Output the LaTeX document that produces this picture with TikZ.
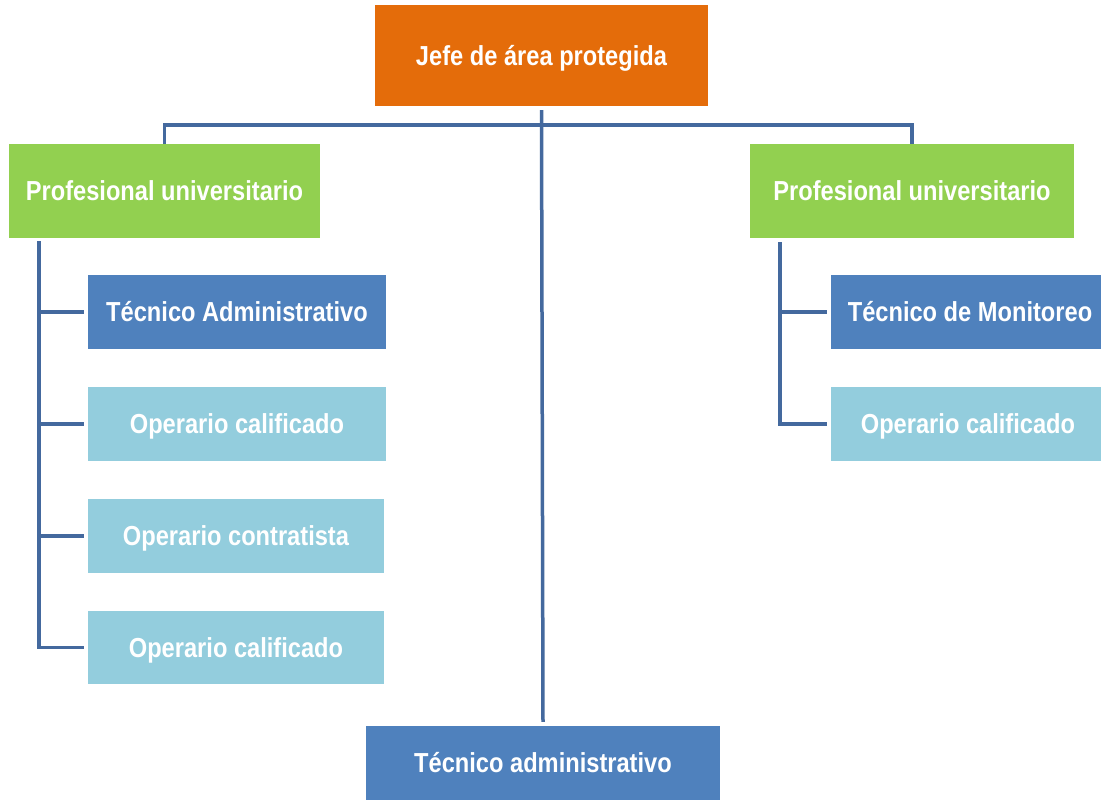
\documentclass[tikz,border=0pt]{standalone}
\usepackage{fontspec}
\newfontfamily\boxfont{Liberation Sans}[FakeStretch=0.86]
\definecolor{orangebox}{HTML}{E46C0A}
\definecolor{greenbox}{HTML}{92D050}
\definecolor{bluebox}{HTML}{4F81BD}
\definecolor{lightbox}{HTML}{93CDDD}
\definecolor{conncol}{HTML}{44699E}
\tikzset{
  orgbox/.style={rectangle, inner sep=0pt, text=white, text height=19.5pt, text depth=0pt,
    font=\boxfont\bfseries\fontsize{27.5}{30}\selectfont},
  conn/.style={draw=conncol, line width=3.5pt}
}
\begin{document}
\begin{tikzpicture}[x=1pt,y=-1pt]
\useasboundingbox (0,0) rectangle (1101,800);
\clip (0,0) rectangle (1101,800);
\fill[white] (0,0) rectangle (1101,800);
% boxes
\node[orgbox, fill=orangebox, minimum width=333pt, minimum height=101pt] (jefe) at (541.5,55.5) {Jefe de área protegida};
\node[orgbox, fill=greenbox, minimum width=311pt, minimum height=94pt] (pu1) at (164.5,191) {Profesional universitario};
\node[orgbox, fill=greenbox, minimum width=324pt, minimum height=94pt] (pu2) at (912,191) {Profesional universitario};
\node[orgbox, fill=bluebox, minimum width=298pt, minimum height=74pt] (ta1) at (237,312) {Técnico Administrativo};
\node[orgbox, fill=lightbox, minimum width=298pt, minimum height=74pt] (oc1) at (237,424) {Operario calificado};
\node[orgbox, fill=lightbox, minimum width=296pt, minimum height=74pt] (oct) at (236,536) {Operario contratista};
\node[orgbox, fill=lightbox, minimum width=296pt, minimum height=73pt] (oc2) at (236,647.5) {Operario calificado};
\node[orgbox, fill=bluebox, minimum width=278pt, minimum height=74pt] (tm) at (970,312) {Técnico de Monitoreo};
\node[orgbox, fill=lightbox, minimum width=274pt, minimum height=74pt] (oc3) at (968,424) {Operario calificado};
\node[orgbox, fill=bluebox, minimum width=354pt, minimum height=74pt] (tadm) at (543,763) {Técnico administrativo};
% connectors
\coordinate (bus) at (541.5,125);
\coordinate (l0) at (39,241);
\coordinate (r0) at (780,242);
\draw[conn] ([yshift=-4pt]jefe.south) -- ([yshift=4pt]tadm.north);
\draw[conn] (pu1.north) |- (bus) -| (pu2.north);
\draw[conn, shorten >=4pt] (l0) |- (ta1.west);
\draw[conn, shorten >=4pt] (l0) |- (oc1.west);
\draw[conn, shorten >=4pt] (l0) |- (oct.west);
\draw[conn, shorten >=4pt] (l0) |- (oc2.west);
\draw[conn, shorten >=4pt] (r0) |- (tm.west);
\draw[conn, shorten >=4pt] (r0) |- (oc3.west);
\end{tikzpicture}
\end{document}
